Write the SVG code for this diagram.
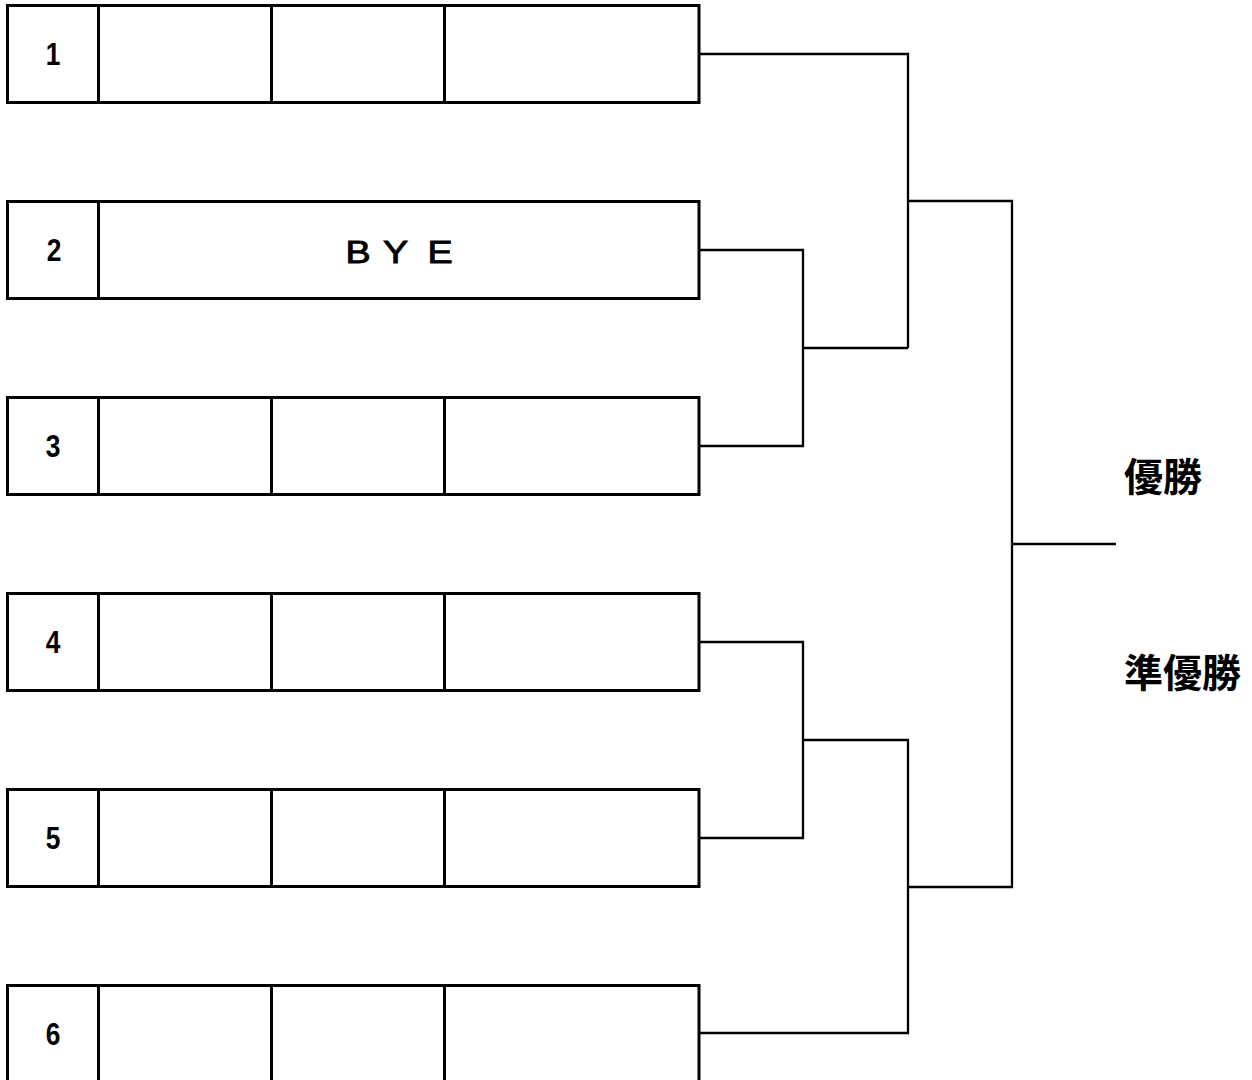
<svg xmlns="http://www.w3.org/2000/svg" width="1252" height="1080" viewBox="0 0 1252 1080">
<style>
.box{fill:#fff;stroke:#000;stroke-width:3}
.div{stroke:#000;stroke-width:3}
.num{font-family:"Liberation Sans",Arial,sans-serif;font-size:31px;font-weight:bold;text-anchor:middle;fill:#000}
.con{fill:none;stroke:#000;stroke-width:2.3}
.lbl{font-family:"Noto Sans CJK JP","Noto Sans CJK SC",sans-serif;font-size:39px;font-weight:bold;fill:#000}
.bye{font-family:"Liberation Sans",Arial,sans-serif;font-size:32px;text-anchor:middle;fill:#000;stroke:#000;stroke-width:0.9}
</style>
<rect width="1252" height="1080" fill="#fff"/>
<g id="row1">
<rect class="box" x="7.5" y="5.5" width="691.5" height="97"/>
<line class="div" x1="98.5" y1="5.5" x2="98.5" y2="102.5"/>
<line class="div" x1="271.5" y1="5.5" x2="271.5" y2="102.5"/>
<line class="div" x1="444.5" y1="5.5" x2="444.5" y2="102.5"/>
<text class="num" transform="translate(53,64.5) scale(0.85,1)">1</text>
</g>
<g id="row2">
<rect class="box" x="7.5" y="201.5" width="691.5" height="97"/>
<line class="div" x1="98.5" y1="201.5" x2="98.5" y2="298.5"/>
<text class="num" transform="translate(54,260.5) scale(0.85,1)">2</text>
<text class="bye" transform="translate(0,263) scale(1.18,1)" x="303.4 335.2 372.9">BYE</text>
</g>
<g id="row3">
<rect class="box" x="7.5" y="397.5" width="691.5" height="97"/>
<line class="div" x1="98.5" y1="397.5" x2="98.5" y2="494.5"/>
<line class="div" x1="271.5" y1="397.5" x2="271.5" y2="494.5"/>
<line class="div" x1="444.5" y1="397.5" x2="444.5" y2="494.5"/>
<text class="num" transform="translate(53,456.5) scale(0.85,1)">3</text>
</g>
<g id="row4">
<rect class="box" x="7.5" y="593.5" width="691.5" height="97"/>
<line class="div" x1="98.5" y1="593.5" x2="98.5" y2="690.5"/>
<line class="div" x1="271.5" y1="593.5" x2="271.5" y2="690.5"/>
<line class="div" x1="444.5" y1="593.5" x2="444.5" y2="690.5"/>
<text class="num" transform="translate(53,652.5) scale(0.85,1)">4</text>
</g>
<g id="row5">
<rect class="box" x="7.5" y="789.5" width="691.5" height="97"/>
<line class="div" x1="98.5" y1="789.5" x2="98.5" y2="886.5"/>
<line class="div" x1="271.5" y1="789.5" x2="271.5" y2="886.5"/>
<line class="div" x1="444.5" y1="789.5" x2="444.5" y2="886.5"/>
<text class="num" transform="translate(53,848.5) scale(0.85,1)">5</text>
</g>
<g id="row6">
<rect class="box" x="7.5" y="985.5" width="691.5" height="97"/>
<line class="div" x1="98.5" y1="985.5" x2="98.5" y2="1082.5"/>
<line class="div" x1="271.5" y1="985.5" x2="271.5" y2="1082.5"/>
<line class="div" x1="444.5" y1="985.5" x2="444.5" y2="1082.5"/>
<text class="num" transform="translate(53,1044.5) scale(0.85,1)">6</text>
</g>
<g id="connectors">
<polyline class="con" points="700,54 908,54 908,348"/>
<polyline class="con" points="700,250 803,250 803,446 700,446"/>
<line class="con" x1="803" y1="348" x2="908" y2="348"/>
<polyline class="con" points="908,201 1012,201 1012,887 908,887"/>
<line class="con" x1="1012" y1="544" x2="1116" y2="544"/>
<polyline class="con" points="700,642 803,642 803,838 700,838"/>
<polyline class="con" points="803,740 908,740 908,1033 700,1033"/>
</g>
<g id="labels">
<text class="lbl" x="1124" y="474" dominant-baseline="central">優勝</text>
<text class="lbl" x="1124" y="670" dominant-baseline="central">準優勝</text>
</g>
</svg>
